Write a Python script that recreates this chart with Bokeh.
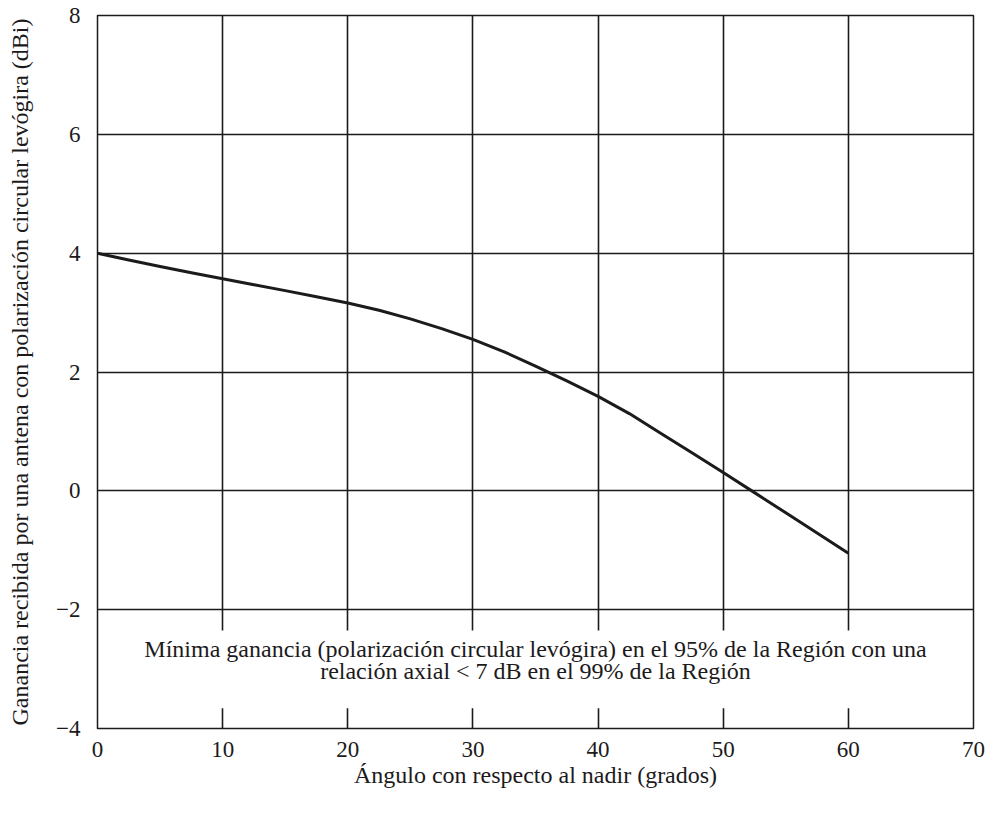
from bokeh.plotting import figure
from bokeh.models import FixedTicker, Range1d, Label
from bokeh.embed import file_html
from bokeh.resources import INLINE

# Minimum LHCP gain versus angle from nadir
angle_deg = [0, 2.5, 5, 7.5, 10, 12.5, 15, 17.5, 20, 22.5, 25, 27.5, 30,
             32.5, 35, 37.5, 40, 42.5, 45, 47.5, 50, 52.5, 55, 57.5, 60]
gain_dbi = [4.0, 3.885, 3.775, 3.67, 3.57, 3.47, 3.37, 3.265, 3.16, 3.04, 2.895, 2.73, 2.55,
            2.34, 2.10, 1.85, 1.59, 1.30, 0.97, 0.64, 0.31, -0.03, -0.37, -0.71, -1.05]

x_ticks = [0, 10, 20, 30, 40, 50, 60, 70]
y_ticks = [-4, -2, 0, 2, 4, 6, 8]
y_tick_labels = {v: (f"\u2212{abs(v)}" if v < 0 else str(v)) for v in y_ticks}

note_lines = [
    "Mínima ganancia (polarización circular levógira) en el 95% de la Región con una",
    "relación axial < 7 dB en el 99% de la Región",
]

FONT = "Liberation Serif"
INK = "#1c1a1b"

p = figure(width=992, height=817, output_backend="svg", toolbar_location=None,
           x_range=Range1d(0, 70), y_range=Range1d(-4, 8),
           min_border_left=97, min_border_right=19, min_border_top=15, min_border_bottom=89)

p.background_fill_color = "white"
p.border_fill_color = "white"
p.outline_line_color = INK
p.outline_line_width = 1.5

for ax in (p.xaxis[0], p.yaxis[0]):
    ax.axis_line_color = None
    ax.major_tick_line_color = None
    ax.minor_tick_line_color = None
    ax.major_label_text_font = FONT
    ax.major_label_text_font_size = "23px"
    ax.major_label_text_color = INK
    ax.axis_label_text_font = FONT
    ax.axis_label_text_font_size = "24px"
    ax.axis_label_text_font_style = "normal"
    ax.axis_label_text_color = INK

p.xaxis.ticker = FixedTicker(ticks=x_ticks)
p.yaxis.ticker = FixedTicker(ticks=y_ticks)
p.yaxis.major_label_overrides = y_tick_labels
p.xaxis.major_label_standoff = 7
p.yaxis.major_label_standoff = 11
p.xaxis.axis_label = "Ángulo con respecto al nadir (grados)"
p.yaxis.axis_label = "Ganancia recibida por una antena con polarización circular levógira (dBi)"
p.xaxis.axis_label_standoff = 2
p.yaxis.axis_label_standoff = 20

p.xgrid.ticker = FixedTicker(ticks=x_ticks[1:-1])
p.ygrid.ticker = FixedTicker(ticks=y_ticks[1:-1])
for g in (p.xgrid[0], p.ygrid[0]):
    g.grid_line_color = INK
    g.grid_line_width = 1.6
    g.grid_line_alpha = 1.0

# White panel behind the note, leaving short grid stubs top and bottom
p.quad(left=[0.15], right=[69.85], bottom=[-3.66], top=[-2.35],
       fill_color="white", line_color=None)

p.line(angle_deg, gain_dbi, line_color=INK, line_width=3, line_join="round")

for txt, yv in zip(note_lines, [-2.66, -3.04]):
    p.add_layout(Label(x=35, y=yv, text=txt, text_align="center", text_baseline="middle",
                       text_font=FONT, text_font_size="24px", text_color=INK))

open("out.html", "w").write(file_html(p, INLINE))
